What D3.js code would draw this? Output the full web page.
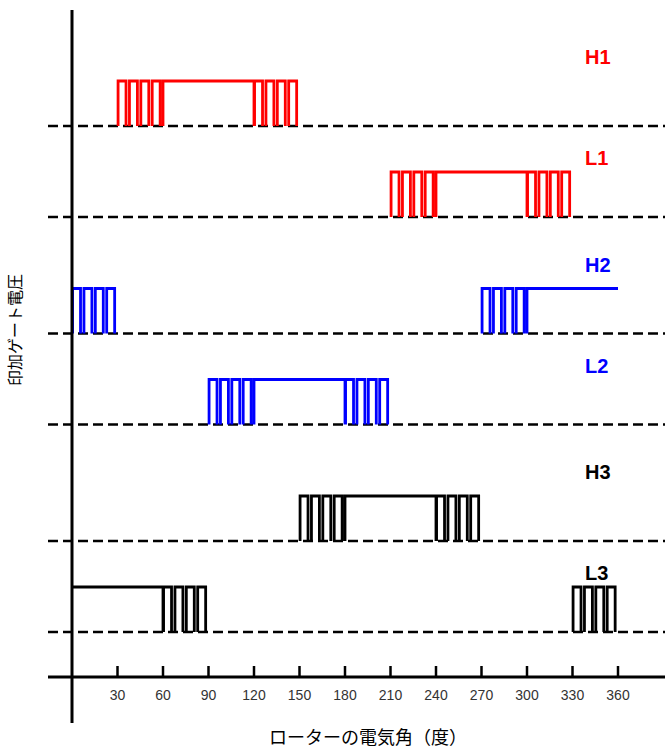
<!DOCTYPE html>
<html lang="ja">
<head>
<meta charset="UTF-8">
<title>ゲート電圧</title>
<style>
  body { margin: 0; background: #fff; }
  svg text { font-family: "Liberation Sans", Arial, sans-serif; }
  .jp { font-family: "Noto Sans CJK JP", sans-serif; }
</style>
</head>
<body>
<svg id="graph"></svg>
<script src="https://d3js.org/d3.v7.min.js"></script>
<script>
// signals, top to bottom
const signals = ['H1', 'L1', 'H2', 'L2', 'H3', 'L3'];
const phases = [0, 0, 1, 1, 2, 2];
const sides = ['H', 'L', 'H', 'L', 'H', 'L'];
const colors = ['#ff0000', '#ff0000', '#0000ff', '#0000ff', '#000000', '#000000'];
// segments per signal: [start deg, end deg, kind]
const segments = [
  [[30, 60, 'pwm'], [60, 120, 'on'], [120, 150, 'pwm']],
  [[210, 240, 'pwm'], [240, 300, 'on'], [300, 330, 'pwm']],
  [[0, 30, 'pwm'], [270, 300, 'pwm'], [300, 360, 'on']],
  [[90, 120, 'pwm'], [120, 180, 'on'], [180, 210, 'pwm']],
  [[150, 180, 'pwm'], [180, 240, 'on'], [240, 270, 'pwm']],
  [[0, 60, 'on'], [60, 90, 'pwm'], [330, 360, 'pwm']]
];
const pulsesPerSeg = 4;
const ticks = [30, 60, 90, 120, 150, 180, 210, 240, 270, 300, 330, 360];

const width = 671, height = 749;
const svg = d3.select('#graph').attr('width', width).attr('height', height);

const x = d3.scaleLinear().domain([0, 360]).range([72, 618]);
const yPhase = d3.scaleLinear().domain([0, 2]).range([126, 541]);
const lowOffset = 91, amp = 45;
const base = i => yPhase(phases[i]) + (sides[i] === 'L' ? lowOffset : 0);

// dashed baselines
signals.forEach((s, i) => {
  svg.append('line')
    .attr('x1', 48).attr('x2', 665)
    .attr('y1', base(i)).attr('y2', base(i))
    .attr('stroke', '#000').attr('stroke-width', 2.5)
    .attr('stroke-dasharray', '10,5');
});

// waveforms
signals.forEach((s, i) => {
  const b = base(i), h = b - amp;
  let d = '';
  segments[i].forEach(([a, e, kind]) => {
    if (kind === 'on') {
      const x1 = x(a), x2 = x(e);
      d += a === 0 ? `M${x1},${h}` : `M${x1},${b}V${h}`;
      d += `H${x2}`;
      if (e !== 360) d += `V${b}`;
    } else {
      const T = (e - a) / pulsesPerSeg;
      for (let k = 0; k < pulsesPerSeg; k++) {
        const p0 = x(a + k * T + T * 0.05), p1 = x(a + k * T + T * 0.75);
        d += `M${p0},${b}V${h}H${p1}V${b}`;
      }
    }
  });
  svg.append('path').attr('d', d)
    .attr('fill', 'none').attr('stroke', colors[i])
    .attr('stroke-width', 2.8).attr('stroke-linejoin', 'miter');

  svg.append('text')
    .attr('x', 585).attr('y', b - (sides[i] === 'H' ? 69 : 59))
    .attr('dy', '0.35em')
    .attr('fill', colors[i])
    .style('font-size', '20px').style('font-weight', 'bold')
    .text(s);
});

// axes
svg.append('line').attr('x1', 48).attr('x2', 665).attr('y1', 677).attr('y2', 677)
  .attr('stroke', '#000').attr('stroke-width', 3);
svg.append('line').attr('x1', 72).attr('x2', 72).attr('y1', 10).attr('y2', 723)
  .attr('stroke', '#000').attr('stroke-width', 3);

svg.selectAll('.tick').data(ticks).enter().append('line')
  .attr('x1', d => x(d)).attr('x2', d => x(d))
  .attr('y1', 666).attr('y2', 677)
  .attr('stroke', '#000').attr('stroke-width', 2.5);

svg.selectAll('.tlabel').data(ticks).enter().append('text')
  .attr('x', d => x(d)).attr('y', 695).attr('dy', '0.35em')
  .attr('text-anchor', 'middle').attr('fill', '#333')
  .style('font-size', '14px')
  .text(d => d);

svg.append('text').attr('class', 'jp')
  .attr('x', 368).attr('y', 738).attr('dy', '0.35em')
  .attr('text-anchor', 'middle').style('font-size', '18px')
  .text('ローターの電気角（度）');

svg.append('text').attr('class', 'jp')
  .attr('transform', 'translate(15,330) rotate(-90)')
  .attr('dy', '0.35em')
  .attr('text-anchor', 'middle').style('font-size', '16px')
  .text('印加ゲート電圧');
</script>
</body>
</html>
